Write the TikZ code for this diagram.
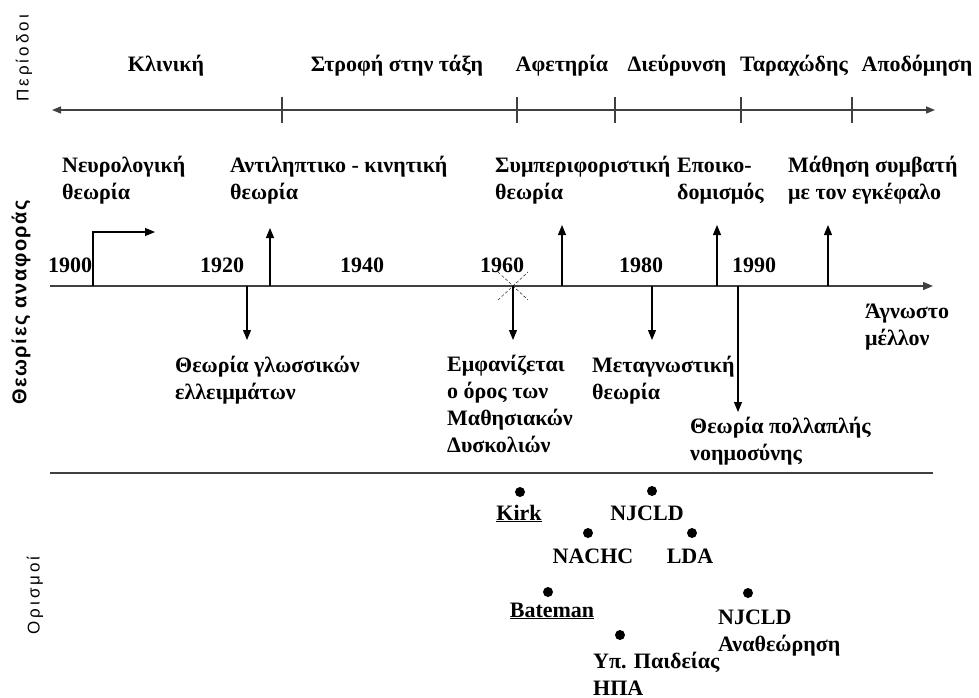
\documentclass[tikz,border=0pt]{standalone}
\usepackage{fontspec}
\setmainfont{Liberation Serif}
\setsansfont{Liberation Sans}
\usetikzlibrary{arrows.meta}

\tikzset{
  txt/.style={font={\bfseries\fontsize{22}{27}\selectfont}, inner sep=0pt, align=left},
  side/.style={font={\sffamily\fontsize{17}{20}\selectfont\addfontfeature{LetterSpace=18}}, rotate=90, anchor=west, inner sep=0pt},
  axisline/.style={line width=1.4pt, black!75},
  pointer/.style={line width=1.1pt, -{Triangle[length=10pt, width=8pt]}},
  dot/.style={circle, fill=black, inner sep=0pt, minimum size=10pt},
}

\begin{document}
\begin{tikzpicture}[x=1pt, y=-1pt]
    \useasboundingbox (0,0) rectangle (979,698);

    % side titles (text starts at the bottom end)
    \node[side] (perTitle) at (24,102) {Περίοδοι};
    \node[side, font={\sffamily\bfseries\fontsize{20}{22}\selectfont\addfontfeature{LetterSpace=8}}] (theoTitle) at (21,405) {Θεωρίες αναφοράς};
    \node[side] (defTitle) at (35,635) {Ορισμοί};

    % periods
    \coordinate (pL) at (52,110);
    \coordinate (pR) at (935,110);
    \draw[axisline, {Triangle[length=9pt, width=7pt]}-{Triangle[length=9pt, width=7pt]}] (pL) -- (pR);
    \draw[axisline] (282,97) -- (282,123);
    \draw[axisline] (517,97) -- (517,123);
    \draw[axisline] (615,97) -- (615,123);
    \draw[axisline] (741,97) -- (741,123);
    \draw[axisline] (852,97) -- (852,123);
    \node[txt, anchor=base] (klin) at (166,72) {Κλινική};
    \node[txt, anchor=base] (strofi) at (397,72) {Στροφή στην τάξη};
    \node[txt, anchor=base] (afet) at (562,72) {Αφετηρία};
    \node[txt, anchor=base] (dievr) at (677,72) {Διεύρυνση};
    \node[txt, anchor=base] (tarax) at (794,72) {Ταραχώδης};
    \node[txt, anchor=base] (apod) at (917,72) {Αποδόμηση};

    % theories above the axis (base = last line)
    \node[txt, anchor=base west] (neuro) at (62,199) {Νευρολογική\\θεωρία};
    \node[txt, anchor=base west] (antil) at (230,199) {Αντιληπτικο - κινητική\\θεωρία};
    \node[txt, anchor=base west] (symp) at (495,199) {Συμπεριφοριστική\\θεωρία};
    \node[txt, anchor=base west] (epoik) at (677,199) {Εποικο-\\δομισμός};
    \node[txt, anchor=base west] (mathisi) at (788,199) {Μάθηση συμβατή\\με τον εγκέφαλο};

    % time axis
    \coordinate (tStart) at (50,286);
    \coordinate (tEnd) at (933,286);
    \draw[axisline, -{Triangle[length=10pt, width=8pt]}] (tStart) -- (tEnd);
    \node[txt, anchor=base] (y1900) at (70,272) {1900};
    \node[txt, anchor=base] (y1920) at (222,272) {1920};
    \node[txt, anchor=base] (y1940) at (362,272) {1940};
    \node[txt, anchor=base] (y1960) at (502,272) {1960};
    \node[txt, anchor=base] (y1980) at (641,272) {1980};
    \node[txt, anchor=base] (y1990) at (754,272) {1990};

    % arrows up
    \coordinate (u1900) at (93,286);
    \coordinate (u1900e) at (155,232);
    \coordinate (u1925) at (270,286);
    \coordinate (u1925e) at (270,228);
    \coordinate (u1965) at (562,286);
    \coordinate (u1965e) at (562,225);
    \coordinate (u1987) at (717,286);
    \coordinate (u1987e) at (717,225);
    \coordinate (u1995) at (828,286);
    \coordinate (u1995e) at (828,225);
    \draw[pointer] (u1900) |- (u1900e);
    \draw[pointer] (u1925) -- (u1925e);
    \draw[pointer] (u1965) -- (u1965e);
    \draw[pointer] (u1987) -- (u1987e);
    \draw[pointer] (u1995) -- (u1995e);

    % arrows down
    \coordinate (d1920) at (247,286);
    \coordinate (d1920e) at (247,340);
    \coordinate (d1960) at (513,286);
    \coordinate (d1960e) at (513,340);
    \coordinate (d1980) at (652,286);
    \coordinate (d1980e) at (652,340);
    \coordinate (d1990) at (738,286);
    \coordinate (d1990e) at (738,412);
    \draw[pointer] (d1920) -- (d1920e);
    \draw[pointer] (d1960) -- (d1960e);
    \draw[pointer] (d1980) -- (d1980e);
    \draw[pointer] (d1990) -- (d1990e);
    \draw[thin, densely dashed] ([shift={(-15,-14)}]d1960) -- ([shift={(15,14)}]d1960);
    \draw[thin, densely dashed] ([shift={(-15,14)}]d1960) -- ([shift={(15,-14)}]d1960);

    % theories below the axis
    \node[txt, anchor=base west] (glossa) at (175,399) {Θεωρία γλωσσικών\\ελλειμμάτων};
    \node[txt, anchor=base west] (emfan) at (447,452) {Εμφανίζεται\\ο όρος των\\Μαθησιακών\\Δυσκολιών};
    \node[txt, anchor=base west] (metagn) at (592,399) {Μεταγνωστική\\θεωρία};
    \node[txt, anchor=base west] (polla) at (690,460) {Θεωρία πολλαπλής\\νοημοσύνης};
    \node[txt, anchor=base west] (agnosto) at (865,345) {Άγνωστο\\μέλλον};

    \draw[axisline] (50,473) -- (933,473);

    % definitions
    \node[dot] (kirkDot) at (520,492) {};
    \node[dot] (njcldDot) at (652,491) {};
    \node[dot] (nachcDot) at (588,533) {};
    \node[dot] (ldaDot) at (692,533) {};
    \node[dot] (batemanDot) at (548,592) {};
    \node[dot] (revDot) at (748,593) {};
    \node[dot] (ypDot) at (620,635) {};
    \node[txt, anchor=base] (kirk) at (519,520) {\underline{Kirk}};
    \node[txt, anchor=base] (njcld) at (647,520) {NJCLD};
    \node[txt, anchor=base] (nachc) at (593,563) {NACHC};
    \node[txt, anchor=base] (lda) at (690,563) {LDA};
    \node[txt, anchor=base] (bateman) at (552,617) {\underline{Bateman}};
    \node[txt, anchor=base west] (njcldRev) at (718,651) {NJCLD\\Αναθεώρηση};
    \node[txt, anchor=base west] (ypaid) at (593,695) {Υπ. Παιδείας\\ΗΠΑ};
\end{tikzpicture}
\end{document}
